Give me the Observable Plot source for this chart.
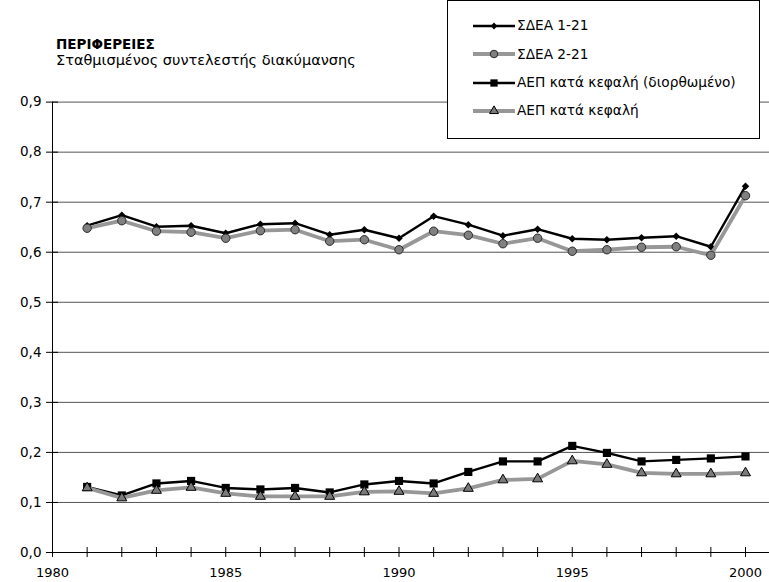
<!DOCTYPE html>
<html>
<head>
<meta charset="utf-8">
<script src="https://cdn.jsdelivr.net/npm/d3@7"></script>
<script src="https://cdn.jsdelivr.net/npm/@observablehq/plot@0.6"></script>
<style>
  html, body { margin: 0; padding: 0; background: #fff; }
  #wrap { position: relative; width: 769px; height: 582px; font-family: "DejaVu Sans", Verdana, sans-serif; color: #000; overflow: hidden; }
  #chart { position: absolute; left: 0; top: 0; }
  .title { position: absolute; left: 56px; top: 37.5px; font-size: 13.5px; line-height: 13px; height: 13px; font-weight: bold; white-space: nowrap; }
  .sub { position: absolute; left: 56px; top: 54px; font-size: 14.5px; line-height: 13px; height: 13px; white-space: nowrap; }
  .legend { position: absolute; left: 447px; top: 0px; width: 311px; height: 126px; border: 1px solid #000; background: #fff; padding-top: 11px; box-sizing: content-box; }
  .legend .row { display: flex; align-items: center; height: 28.3px; padding-left: 25px; font-size: 13.7px; line-height: 13.7px; white-space: nowrap; }
  .legend svg { display: block; margin-right: 2px; }
</style>
</head>
<body>
<div id="wrap">
  <div id="chart"></div>
  <div class="title">ΠΕΡΙΦΕΡΕΙΕΣ</div>
  <div class="sub">Σταθμισμένος συντελεστής διακύμανσης</div>
  <div class="legend" id="legend"></div>
</div>
<script>
// ---- data ----
const years = [1981,1982,1983,1984,1985,1986,1987,1988,1989,1990,1991,1992,1993,1994,1995,1996,1997,1998,1999,2000];
const sdea121 = [0.653,0.674,0.651,0.653,0.638,0.656,0.658,0.635,0.645,0.628,0.672,0.655,0.633,0.646,0.627,0.625,0.629,0.632,0.611,0.732];
const sdea221 = [0.648,0.663,0.642,0.640,0.628,0.643,0.645,0.622,0.625,0.605,0.642,0.634,0.617,0.628,0.602,0.605,0.610,0.611,0.594,0.713];
const aepAdj  = [0.131,0.114,0.138,0.143,0.129,0.126,0.129,0.120,0.136,0.143,0.138,0.161,0.182,0.182,0.213,0.199,0.182,0.185,0.188,0.192];
const aep     = [0.129,0.109,0.124,0.130,0.118,0.112,0.112,0.112,0.121,0.122,0.118,0.128,0.145,0.147,0.183,0.176,0.159,0.157,0.157,0.159];
const seriesNames = ["ΣΔΕΑ 1-21", "ΣΔΕΑ 2-21", "ΑΕΠ κατά κεφαλή (διορθωμένο)", "ΑΕΠ κατά κεφαλή"];
const yTicks = [0,0.1,0.2,0.3,0.4,0.5,0.6,0.7,0.8,0.9];
const xTickYears = [1980,1981,1982,1983,1984,1985,1986,1987,1988,1989,1990,1991,1992,1993,1994,1995,1996,1997,1998,1999,2000];
const xLabels = [1980,1985,1990,1995,2000];

// ---- styles ----
const styles = [
  {stroke: "#000", strokeWidth: 2.4, symbol: "diamond2", d3sym: d3.symbolDiamond2, r: 3.4, fill: "#000", mstroke: "none", msw: 0},
  {stroke: "#979797", strokeWidth: 3.8, symbol: "circle", d3sym: d3.symbolCircle, r: 4.2, fill: "#808080", mstroke: "#2a2a2a", msw: 1},
  {stroke: "#000", strokeWidth: 2.4, symbol: "square", d3sym: d3.symbolSquare, r: 4.6, fill: "#000", mstroke: "none", msw: 0},
  {stroke: "#979797", strokeWidth: 3.8, symbol: "triangle", d3sym: d3.symbolTriangle, r: 3.7, fill: "#7a7a7a", mstroke: "#000", msw: 1}
];
const allSeries = [sdea121, sdea221, aepAdj, aep];
const tables = allSeries.map(vals => years.map((year, i) => ({year, value: vals[i]})));

const pxPerYear = 34.65;
const xEnd = 1980 + (769 - 52) / pxPerYear;

const seriesMarks = [];
tables.forEach((t, k) => {
  const s = styles[k];
  seriesMarks.push(Plot.line(t, {x: "year", y: "value", stroke: s.stroke, strokeWidth: s.strokeWidth, strokeLinejoin: "round", strokeLinecap: "butt"}));
  seriesMarks.push(Plot.dot(t, {x: "year", y: "value", symbol: () => s.symbol, r: s.r, fill: s.fill, stroke: s.mstroke, strokeWidth: s.msw}));
});

const chart = Plot.plot({
  width: 769,
  height: 582,
  marginLeft: 52,
  marginRight: 0,
  marginTop: 101.6,
  marginBottom: 30,
  style: {fontFamily: "'DejaVu Sans', Verdana, sans-serif", fontSize: "13px", color: "#000", background: "transparent", overflow: "visible"},
  x: {domain: [1980, xEnd], label: null},
  y: {domain: [0, 0.9], label: null},
  symbol: {type: "identity"},
  marks: [
    Plot.gridY(yTicks.slice(1), {stroke: "#555", strokeOpacity: 1, strokeWidth: 1}),
    Plot.ruleY([0], {stroke: "#000", strokeWidth: 1}),
    Plot.ruleX([1980], {stroke: "#000", strokeWidth: 1}),
    Plot.ruleX(xTickYears, {x: d => d, y1: 0, y2: 0, insetTop: 5, insetBottom: 5, stroke: "#000"}),
    Plot.ruleY(yTicks, {y: d => d, x1: 1980, x2: 1980, insetLeft: -6, insetRight: -6, stroke: "#000"}),
    Plot.axisX(xLabels, {tickSize: 0, tickPadding: 15, tickFormat: d => String(d), fill: "#000", label: null}),
    Plot.axisY(yTicks, {tickSize: 0, tickPadding: 11, tickFormat: d => d.toFixed(1).replace(".", ","), fill: "#000", label: null, fontSize: 13.5, letterSpacing: "1.5px"}),
    ...seriesMarks
  ]
});
document.getElementById("chart").appendChild(chart);

// ---- legend ----
const legend = d3.select("#legend");
seriesNames.forEach((name, k) => {
  const s = styles[k];
  const row = legend.append("div").attr("class", "row");
  const svg = row.append("svg").attr("width", 42).attr("height", 14);
  svg.append("line").attr("x1", 0).attr("x2", 42).attr("y1", 7).attr("y2", 7)
    .attr("stroke", s.stroke).attr("stroke-width", s.strokeWidth);
  svg.append("path").attr("transform", "translate(21,7)")
    .attr("d", d3.symbol(s.d3sym, Math.PI * s.r * s.r * 0.8)())
    .attr("fill", s.fill).attr("stroke", s.mstroke).attr("stroke-width", s.msw);
  row.append("span").text(name);
});
</script>
</body>
</html>
